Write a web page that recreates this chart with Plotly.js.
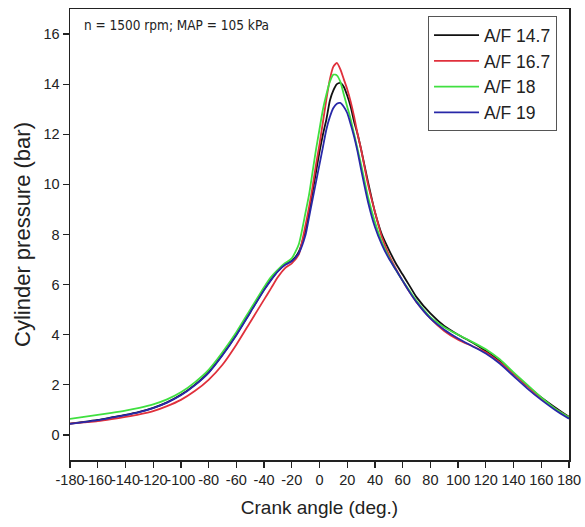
<!DOCTYPE html>
<html>
<head>
<meta charset="utf-8">
<script src="https://cdn.plot.ly/plotly-3.0.1.min.js"></script>
<style>html,body{margin:0;padding:0;background:#fff;}#chart{width:585px;height:527px;}</style>
</head>
<body>
<div id="chart"></div>
<script>
// Crank angle (deg.)
const angle = [-180,-170,-160,-150,-140,-130,-120,-110,-100,-90,-80,-70,-60,-50,-40,-35,-30,-25,-20,-15,
  -10,-7.5,-5,-2.5,0,2.5,5,7.5,10,12.5,15,17.5,20,22.5,25,27.5,30,
  35,40,45,50,55,60,65,70,80,90,100,110,120,130,140,150,160,170,180];

// Cylinder pressure (bar)
const af147 = [0.45,0.52,0.60,0.70,0.80,0.92,1.08,1.30,1.60,2.00,2.50,3.20,4.00,4.90,5.80,6.20,6.55,6.80,6.95,7.30,
  8.20,8.90,9.70,10.50,11.30,12.00,12.60,13.35,13.75,14.00,14.05,13.90,13.55,13.10,12.50,12.00,11.40,
  10.10,8.90,8.00,7.40,6.85,6.40,5.95,5.50,4.85,4.35,4.00,3.70,3.35,2.95,2.45,1.95,1.50,1.10,0.72];
const af167 = [0.45,0.50,0.55,0.63,0.72,0.82,0.95,1.15,1.40,1.75,2.20,2.80,3.60,4.50,5.40,5.85,6.30,6.65,6.85,7.20,
  8.40,9.10,9.90,10.80,11.60,12.50,13.40,14.20,14.70,14.85,14.60,14.20,13.80,13.30,12.70,12.00,11.40,
  10.00,8.90,7.90,7.20,6.65,6.15,5.70,5.30,4.65,4.15,3.80,3.55,3.30,2.90,2.45,1.95,1.45,1.05,0.70];
const af18  = [0.64,0.72,0.80,0.88,0.97,1.08,1.22,1.42,1.70,2.10,2.60,3.30,4.10,5.00,5.90,6.30,6.60,6.85,7.05,7.60,
  8.90,9.60,10.50,11.40,12.20,13.00,13.60,14.10,14.38,14.35,14.10,13.60,13.10,12.60,12.00,11.40,10.80,
  9.50,8.50,7.70,7.10,6.60,6.15,5.75,5.35,4.70,4.30,4.00,3.72,3.42,3.02,2.50,2.00,1.50,1.05,0.70];
const af19  = [0.44,0.51,0.59,0.69,0.79,0.91,1.07,1.29,1.58,1.98,2.48,3.18,3.98,4.88,5.78,6.18,6.53,6.78,6.93,7.25,
  8.00,8.70,9.40,10.10,10.80,11.50,12.20,12.70,13.05,13.22,13.25,13.10,12.85,12.40,11.90,11.30,10.60,
  9.30,8.30,7.60,7.05,6.60,6.15,5.70,5.30,4.65,4.20,3.85,3.55,3.25,2.85,2.35,1.85,1.40,1.00,0.65];

const seriesNames = ['A/F 14.7','A/F 16.7','A/F 18','A/F 19'];
const seriesVals = [af147, af167, af18, af19];
const seriesColors = ['#111111','#e0303c','#40e040','#2828a8'];

const xTicks = [-180,-160,-140,-120,-100,-80,-60,-40,-20,0,20,40,60,80,100,120,140,160,180];
const yTicks = [0,2,4,6,8,10,12,14,16];

const traces = seriesVals.map((v,i)=>({
  x: angle, y: v, type:'scatter', mode:'lines', name: seriesNames[i],
  line:{color: seriesColors[i], width:1.8, shape:'spline', smoothing:0.6}
}));

const font = 'Liberation Sans, Arial, sans-serif';
const layout = {
  width:585, height:527,
  margin:{l:70, r:16, t:9, b:67},
  paper_bgcolor:'#fff', plot_bgcolor:'#fff',
  showlegend:true,
  font:{family:font, color:'#222', size:14},
  xaxis:{
    range:[-180,180], tickvals:xTicks, ticktext:xTicks.map(String), tickangle:0,
    ticks:'outside', ticklen:6, tickwidth:1.3, tickcolor:'#222',
    showline:true, linecolor:'#222', linewidth:1.5, mirror:true,
    showgrid:false, zeroline:false,
    tickfont:{family:font, size:14.5, color:'#222'},
    title:{text:'Crank angle (deg.)', font:{family:font, size:19, color:'#222'}, standoff:14}
  },
  yaxis:{
    range:[-1,17], tickvals:yTicks, ticktext:yTicks.map(String),
    ticks:'outside', ticklen:6, tickwidth:1.3, tickcolor:'#222',
    showline:true, linecolor:'#222', linewidth:1.5, mirror:true,
    showgrid:false, zeroline:false,
    tickfont:{family:font, size:14.5, color:'#222'},
    title:{text:'Cylinder pressure (bar)', font:{family:font, size:22, color:'#222'}, standoff:7}
  },
  legend:{
    x:0.976, xanchor:'right', y:0.984, yanchor:'top',
    bgcolor:'#fff', bordercolor:'#555', borderwidth:1,
    font:{family:font, size:17.5, color:'#222'},
    itemwidth:45,
    tracegroupgap:0
  },
  annotations:[{
    xref:'paper', yref:'paper', x:0.024, y:0.964, xanchor:'left', yanchor:'middle',
    text:'n = 1500 rpm; MAP = 105 kPa', showarrow:false,
    font:{family:'DejaVu Sans Condensed, Arial Narrow, sans-serif', size:13.5, color:'#222'}
  }]
};

Plotly.newPlot('chart', traces, layout, {displayModeBar:false, staticPlot:true});
</script>
</body>
</html>
